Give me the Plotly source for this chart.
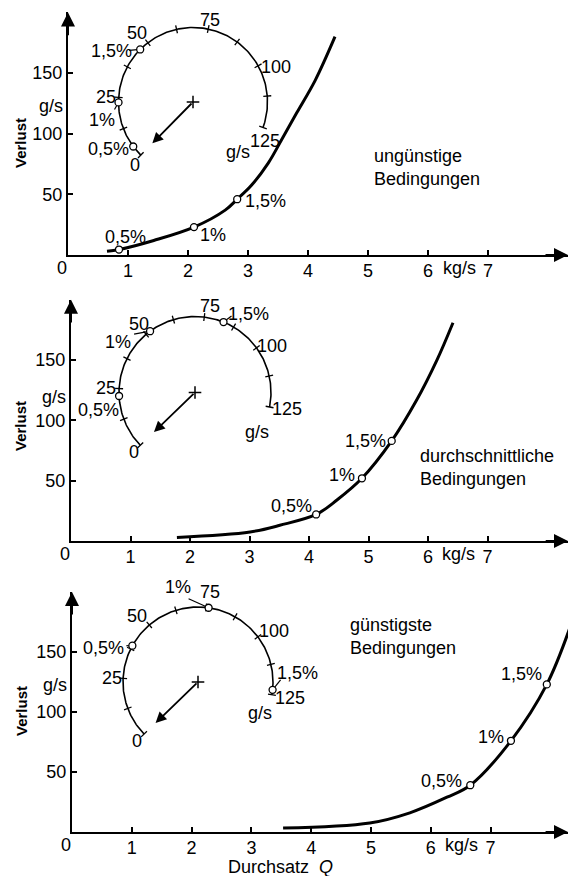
import numpy as np
import plotly.graph_objects as go

W, H = 570, 876
FONT = "Liberation Sans"
FS = 18

# ---------------- data ----------------
x_tick_vals = [1, 2, 3, 4, 5, 6, 7]
y_tick_vals = [50, 100, 150]
dial_tick_vals = [0, 12.5, 25, 37.5, 50, 62.5, 75, 87.5, 100, 112.5, 125]
dial_label_vals = [0, 25, 50, 75, 100, 125]
pct_labels = ["0,5%", "1%", "1,5%"]
conditions = ["ungünstige<br>Bedingungen",
              "durchschnittliche<br>Bedingungen",
              "günstigste<br>Bedingungen"]

# ungünstige Bedingungen
q_bad = [0.65, 0.85, 1.43, 2.10, 2.62, 2.82, 3.05, 3.34, 3.56, 3.81, 4.12, 4.45]
loss_bad = [3, 4.5, 12, 23, 37, 46, 57, 76, 95, 117, 144, 180]
q_bad_pct = [0.85, 2.10, 2.82]
loss_bad_pct = [4.5, 23, 46]

# durchschnittliche Bedingungen
q_avg = [1.78, 3.01, 3.51, 4.12, 4.47, 4.89, 5.39, 5.80, 6.15, 6.42]
loss_avg = [3, 7.5, 13, 22, 34, 52, 83, 116, 150, 181]
q_avg_pct = [4.12, 4.89, 5.39]
loss_avg_pct = [22, 52, 83]

# günstigste Bedingungen
q_good = [3.53, 4.98, 5.65, 6.27, 6.66, 7.34, 7.94, 8.36]
loss_good = [3.3, 7.5, 16, 29, 39, 76, 123, 175]
q_good_pct = [6.66, 7.34, 7.94]
loss_good_pct = [39, 76, 123]

# ---------------- layout per panel (pixels) ----------------
panels = [
    dict(q=q_bad, loss=loss_bad, qp=q_bad_pct, lp=loss_bad_pct, text=conditions[0],
         x0=68, y0=255, sx=60.0, sy=1.213,
         dc=(193, 102), dr=74.5, th0=225.5, k=1.964,
         dial_lab_off=[(-58, 63), (-87, -5), (-56, -69), (17, -82), (83, -35), (72, 39)],
         gs_off=(45, 50),
         dpct_off=[(-85, 47), (-91, 18), (-82, -51)],
         leaders=[None, (-4, 7), (-11, 1)],
         cpct_off=[(6, -13), (19, 8), (28, 2)],
         cond_pos=(372, 167), verl_y=143, gs_y=106, arrow_len=58),
    dict(q=q_avg, loss=loss_avg, qp=q_avg_pct, lp=loss_avg_pct, text=conditions[1],
         x0=71, y0=541, sx=59.5, sy=1.206,
         dc=(195, 392.5), dr=76, th0=224, k=1.88,
         dial_lab_off=[(-61, 60), (-89, -4), (-56, -68), (15, -86), (77, -46), (92, 17)],
         gs_off=(62, 40),
         dpct_off=[(-97, 18), (-77, -50), (53, -78)],
         leaders=[None, (-16, 3), (8, -6)],
         cpct_off=[(-25, -8), (-20, -3), (-26, 0)],
         cond_pos=(418, 467), verl_y=426, gs_y=397, arrow_len=57),
    dict(q=q_good, loss=loss_good, qp=q_good_pct, lp=loss_good_pct, text=conditions[2],
         x0=72, y0=832, sx=59.8, sy=1.2,
         dc=(198, 682), dr=75, th0=224, k=1.87,
         dial_lab_off=[(-61, 59), (-86, -4), (-61, -66), (12, -90), (76, -51), (92, 16)],
         gs_off=(62, 31),
         dpct_off=[(-95, -34), (-20, -95), (99, -9)],
         leaders=[(-6, 0), (-20, -9), (8, -10)],
         cpct_off=[(-29, -4), (-20, -4), (-25, -10)],
         cond_pos=(348, 636), verl_y=711, gs_y=685, arrow_len=59),
]

X_END = 568
Y_TOP_VAL = 200

fig = go.Figure()
annotations = []
layout_axes = {}

def txt(s, **kw):
    d = dict(text=s, showarrow=False, font=dict(family=FONT, size=FS, color="black"))
    d.update(kw)
    return d

for i, p in enumerate(panels):
    n = "" if i == 0 else str(i + 1)
    xa, ya = "x" + n, "y" + n
    x0, y0, sx, sy = p["x0"], p["y0"], p["sx"], p["sy"]
    xmax = (X_END - x0) / sx
    ytop_px = y0 - Y_TOP_VAL * sy

    layout_axes["xaxis" + n] = dict(
        domain=[x0 / W, X_END / W], range=[0, xmax], anchor=ya,
        showline=True, linewidth=2, linecolor="black", showgrid=False, zeroline=False,
        ticks="inside", ticklen=5, tickwidth=1.5, tickcolor="black",
        tickvals=x_tick_vals, ticktext=[str(v) for v in x_tick_vals],
        ticklabelstandoff=-2,
        tickfont=dict(family=FONT, size=FS, color="black"), automargin=False)
    layout_axes["yaxis" + n] = dict(
        domain=[(H - y0) / H, (H - ytop_px) / H], range=[0, Y_TOP_VAL], anchor=xa,
        showline=True, linewidth=2, linecolor="black", showgrid=False, zeroline=False,
        ticks="inside", ticklen=5, tickwidth=1.5, tickcolor="black",
        tickvals=y_tick_vals, ticktext=[str(v) for v in y_tick_vals],
        tickfont=dict(family=FONT, size=FS, color="black"), automargin=False)

    # axis arrowheads
    annotations.append(dict(x=xmax, y=0, ax=xmax - 0.4, ay=0, xref=xa, yref=ya,
                            axref=xa, ayref=ya, showarrow=True, text="",
                            arrowhead=2, arrowsize=1.4, arrowwidth=2, arrowcolor="black"))
    annotations.append(dict(x=0, y=Y_TOP_VAL, ax=0, ay=Y_TOP_VAL - 20, xref=xa, yref=ya,
                            axref=xa, ayref=ya, showarrow=True, text="",
                            arrowhead=2, arrowsize=1.4, arrowwidth=2, arrowcolor="black"))

    # main curve
    fig.add_trace(go.Scatter(x=p["q"], y=p["loss"], mode="lines", xaxis=xa, yaxis=ya,
                             line=dict(color="black", width=3, shape="spline", smoothing=1.0),
                             hoverinfo="skip", showlegend=False))

    # dial geometry
    cx = (p["dc"][0] - x0) / sx
    cy = (y0 - p["dc"][1]) / sy
    rx, ry = p["dr"] / sx, p["dr"] / sy

    def ang(v, p=p):
        return np.deg2rad(p["th0"] - p["k"] * v)

    vv = np.linspace(dial_tick_vals[0], dial_tick_vals[-1], 200)
    fig.add_trace(go.Scatter(x=cx + rx * np.cos(ang(vv)), y=cy + ry * np.sin(ang(vv)),
                             mode="lines", xaxis=xa, yaxis=ya,
                             line=dict(color="black", width=1.6), hoverinfo="skip", showlegend=False))
    tx, ty = [], []
    for v in dial_tick_vals:
        a = ang(v)
        for rr in (p["dr"] - 4, p["dr"] + 4):
            tx.append(cx + rr / sx * np.cos(a))
            ty.append(cy + rr / sy * np.sin(a))
        tx.append(None); ty.append(None)
    fig.add_trace(go.Scatter(x=tx, y=ty, mode="lines", xaxis=xa, yaxis=ya,
                             line=dict(color="black", width=1.3), hoverinfo="skip", showlegend=False))

    # dial number labels
    for v, (dx, dy) in zip(dial_label_vals, p["dial_lab_off"]):
        annotations.append(txt(str(v), x=cx, y=cy, xref=xa, yref=ya, xshift=dx, yshift=-dy,
                               xanchor="center", yanchor="middle"))
    annotations.append(txt("g/s", x=cx, y=cy, xref=xa, yref=ya, xshift=p["gs_off"][0],
                           yshift=-p["gs_off"][1], xanchor="center", yanchor="middle"))

    # dial percent markers + leaders + labels
    mxs = cx + rx * np.cos(ang(np.array(p["lp"])))
    mys = cy + ry * np.sin(ang(np.array(p["lp"])))
    lx, ly = [], []
    for mx, my, ld in zip(mxs, mys, p["leaders"]):
        if ld is None:
            continue
        lx += [mx, mx + ld[0] / sx, None]
        ly += [my, my - ld[1] / sy, None]
    fig.add_trace(go.Scatter(x=lx, y=ly, mode="lines", xaxis=xa, yaxis=ya,
                             line=dict(color="black", width=1.2), hoverinfo="skip", showlegend=False))
    fig.add_trace(go.Scatter(x=mxs, y=mys, mode="markers", xaxis=xa, yaxis=ya,
                             marker=dict(symbol="circle", size=7, color="white",
                                         line=dict(color="black", width=1.3)),
                             hoverinfo="skip", showlegend=False))
    for lab, (dx, dy) in zip(pct_labels, p["dpct_off"]):
        annotations.append(txt(lab, x=cx, y=cy, xref=xa, yref=ya, xshift=dx, yshift=-dy,
                               xanchor="center", yanchor="middle"))

    # center cross and arrow
    fig.add_trace(go.Scatter(x=[cx], y=[cy], mode="markers", xaxis=xa, yaxis=ya,
                             marker=dict(symbol="cross-thin", size=9,
                                         line=dict(color="black", width=1.5)),
                             hoverinfo="skip", showlegend=False))
    a0 = np.deg2rad(p["th0"])
    L = p["arrow_len"]
    annotations.append(dict(x=cx + L / sx * np.cos(a0), y=cy + L / sy * np.sin(a0),
                            ax=cx, ay=cy, xref=xa, yref=ya, axref=xa, ayref=ya,
                            showarrow=True, text="", arrowhead=2, arrowsize=1.2,
                            arrowwidth=1.8, arrowcolor="black"))

    # curve percent markers + labels
    fig.add_trace(go.Scatter(x=p["qp"], y=p["lp"], mode="markers", xaxis=xa, yaxis=ya,
                             marker=dict(symbol="circle", size=7, color="white",
                                         line=dict(color="black", width=1.3)),
                             hoverinfo="skip", showlegend=False))
    for lab, qq, ll, (dx, dy) in zip(pct_labels, p["qp"], p["lp"], p["cpct_off"]):
        annotations.append(txt(lab, x=qq, y=ll, xref=xa, yref=ya, xshift=dx, yshift=-dy,
                               xanchor="center", yanchor="middle"))

    # axis texts
    annotations.append(txt("0", x=0, y=0, xref=xa, yref=ya, xshift=-6, yshift=-13,
                           xanchor="center", yanchor="middle"))
    annotations.append(txt("kg/s", x=6.52, y=0, xref=xa, yref=ya, yshift=-13,
                           xanchor="center", yanchor="middle"))
    annotations.append(txt("g/s", x=0, y=(y0 - p["gs_y"]) / sy, xref=xa, yref=ya,
                           xshift=-3, xanchor="right", yanchor="middle"))
    annotations.append(txt("<b>Verlust</b>", x=21 / W, y=1 - p["verl_y"] / H,
                           xref="paper", yref="paper", textangle=-90,
                           xanchor="center", yanchor="middle",
                           font=dict(family=FONT, size=15, color="black")))
    cpx, cpy = p["cond_pos"]
    annotations.append(txt(p["text"], x=cpx / W, y=1 - cpy / H, xref="paper", yref="paper",
                           xanchor="left", yanchor="middle", align="left"))

annotations.append(txt("Durchsatz  <i>Q</i>", x=280 / W, y=1 - 867 / H,
                       xref="paper", yref="paper", xanchor="center", yanchor="middle"))

fig.update_layout(width=W, height=H, margin=dict(l=0, r=0, t=0, b=0),
                  paper_bgcolor="white", plot_bgcolor="white",
                  annotations=annotations, **layout_axes)
fig.write_html("out.html", config={"displayModeBar": False},
               post_script="document.body.style.margin='0px';")
